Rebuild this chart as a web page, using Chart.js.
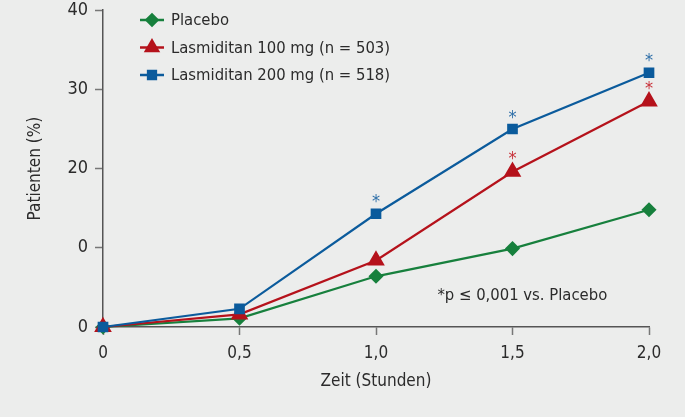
<!DOCTYPE html>
<html>
<head>
<meta charset="utf-8">
<script src="https://cdn.jsdelivr.net/npm/chart.js@4.4.0/dist/chart.umd.min.js"></script>
<style>
  html, body { margin: 0; padding: 0; background: #ecedec; }
  #wrap { width: 685px; height: 417px; }
</style>
</head>
<body>
<div id="wrap"><canvas id="myChart" width="685" height="417"></canvas></div>
<script>
var FONT = "'Liberation Sans Narrow', 'DejaVu Sans Condensed', 'Open Sans', sans-serif";

// Données
var zeit = [0, 0.5, 1.0, 1.5, 2.0];
var placebo = [0, 1.1, 6.4, 9.9, 14.8];
var lasmi100 = [0, 1.6, 8.4, 19.6, 28.5];
var lasmi200 = [0, 2.3, 14.3, 25.0, 32.1];
// astérisques (p <= 0,001)
var sig100 = [false, false, false, true, true];
var sig200 = [false, false, true, true, true];
var yTicks = [0, 10, 20, 30, 40];
var yTickLabels = ['0', '0', '20', '30', '40'];
var xTickLabels = ['0', '0,5', '1,0', '1,5', '2,0'];
var legendLabels = ['Placebo', 'Lasmiditan 100 mg (n = 503)', 'Lasmiditan 200 mg (n = 518)'];

var green = '#17803d';
var red = '#b5121b';
var blue = '#0b5b9c';

function toPoints(arr) {
  return arr.map(function(v, i) { return { x: zeit[i], y: v }; });
}

// légende + astérisques + note
var extras = {
  id: 'extras',
  afterDatasetsDraw: function(chart) {
    var c = chart.ctx;
    var xs = chart.scales.x, ys = chart.scales.y;
    c.save();
    c.font = '18px ' + FONT;
    c.textAlign = 'center';
    c.textBaseline = 'middle';
    zeit.forEach(function(t, i) {
      if (sig200[i]) {
        c.fillStyle = '#2f6fa8';
        c.fillText('*', xs.getPixelForValue(t), ys.getPixelForValue(lasmi200[i]) - 11);
      }
      if (sig100[i]) {
        c.fillStyle = '#c8323a';
        c.fillText('*', xs.getPixelForValue(t), ys.getPixelForValue(lasmi100[i]) - 12);
      }
    });
    // note
    c.font = '16.5px ' + FONT;
    c.fillStyle = '#2b2b2b';
    c.textAlign = 'left';
    c.fillText('*p \u2264 0,001 vs. Placebo', xs.getPixelForValue(1.225), ys.getPixelForValue(3.9));

    // légende
    c.font = '16.5px ' + FONT;
    var cols = [green, red, blue];
    var styles = ['rectRot', 'triangle', 'rect'];
    var lx = 140, ly = 20;
    legendLabels.forEach(function(lbl, i) {
      var y = ly + i * 27.5;
      c.strokeStyle = cols[i];
      c.lineWidth = 2.5;
      c.beginPath();
      c.moveTo(lx, y);
      c.lineTo(lx + 24, y);
      c.stroke();
      Chart.helpers.drawPoint(c, { pointStyle: styles[i], radius: i === 1 ? 7 : 5.5, rotation: 0, borderWidth: 1 }, lx + 12, y);
      c.fillStyle = cols[i];
      c.fill();
      c.fillStyle = '#2b2b2b';
      c.fillText(lbl, lx + 31, y + 1);
    });
    c.restore();
  }
};

var ctx = document.getElementById('myChart').getContext('2d');
var myChart = new Chart(ctx, {
  type: 'line',
  data: {
    datasets: [{
      label: legendLabels[0],
      data: toPoints(placebo),
      borderColor: green,
      backgroundColor: green,
      pointStyle: 'rectRot',
      pointRadius: 6,
      borderWidth: 2.2,
      order: 2
    }, {
      label: legendLabels[1],
      data: toPoints(lasmi100),
      borderColor: red,
      backgroundColor: red,
      pointStyle: 'triangle',
      pointRadius: 8,
      borderWidth: 2.2,
      order: 1
    }, {
      label: legendLabels[2],
      data: toPoints(lasmi200),
      borderColor: blue,
      backgroundColor: blue,
      pointStyle: 'rect',
      pointRadius: 6,
      borderWidth: 2.2,
      order: 0
    }]
  },
  options: {
    responsive: false,
    animation: false,
    clip: false,
    layout: { padding: { left: 0, right: 36, top: 7, bottom: 0 } },
    plugins: {
      legend: { display: false },
      tooltip: { enabled: false }
    },
    elements: { line: { tension: 0 }, point: { borderWidth: 1 } },
    scales: {
      x: {
        type: 'linear',
        min: 0,
        max: 2,
        afterFit: function(s) { s.height = 90; s.paddingLeft = 0; s.paddingRight = 0; },
        afterBuildTicks: function(s) { s.ticks = zeit.map(function(v) { return { value: v }; }); },
        border: { color: '#555', width: 1.5 },
        grid: { drawOnChartArea: false, drawTicks: true, tickLength: 8, color: '#777', tickWidth: 1.5 },
        ticks: {
          color: '#2b2b2b',
          padding: 8,
          font: { family: FONT, size: 17 },
          callback: function(v, i) { return xTickLabels[i]; }
        },
        title: {
          display: true,
          text: 'Zeit (Stunden)',
          color: '#2b2b2b',
          font: { family: FONT, size: 17 },
          padding: { top: 0, bottom: 25 }
        }
      },
      y: {
        min: 0,
        max: 40,
        afterFit: function(s) { s.width = 103; s.paddingTop = 0; s.paddingBottom = 0; },
        afterBuildTicks: function(s) { s.ticks = yTicks.map(function(v) { return { value: v }; }); },
        border: { color: '#555', width: 1.5 },
        grid: { drawOnChartArea: false, drawTicks: true, tickLength: 8, color: '#777', tickWidth: 1.5 },
        ticks: {
          color: '#2b2b2b',
          padding: 7,
          font: { family: FONT, size: 18 },
          callback: function(v, i) { return yTickLabels[i]; }
        },
        title: {
          display: true,
          text: 'Patienten (%)',
          color: '#2b2b2b',
          font: { family: FONT, size: 17 },
          padding: { top: 25, bottom: 0 }
        }
      }
    }
  },
  plugins: [extras]
});
</script>
</body>
</html>
